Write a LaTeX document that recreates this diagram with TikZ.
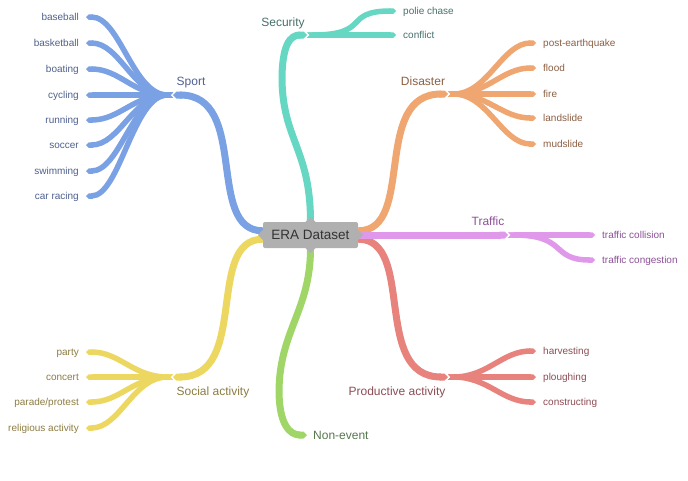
\documentclass[tikz,border=0pt]{standalone}
\usepackage{fontspec}
\setmainfont{Liberation Sans}
\usetikzlibrary{arrows.meta}

\definecolor{deporte}{RGB}{122,161,228}
\definecolor{seguridad}{RGB}{102,215,194}
\definecolor{desastre}{RGB}{240,166,112}
\definecolor{trafico}{RGB}{224,152,234}
\definecolor{productiva}{RGB}{232,130,125}
\definecolor{noevento}{RGB}{160,214,104}
\definecolor{social}{RGB}{236,216,96}
\definecolor{deportetxt}{RGB}{78,96,142}
\definecolor{seguridadtxt}{RGB}{70,112,108}
\definecolor{desastretxt}{RGB}{140,94,66}
\definecolor{traficotxt}{RGB}{140,80,150}
\definecolor{productivatxt}{RGB}{140,76,84}
\definecolor{noeventotxt}{RGB}{86,118,78}
\definecolor{socialtxt}{RGB}{140,124,66}
\definecolor{grisraiz}{RGB}{176,176,176}
\definecolor{textoraiz}{RGB}{51,51,51}

\tikzset{
  estilo mapa/.style={
      x=1pt, y=-1pt,
      raiz/.style={fill=grisraiz, text=textoraiz, rounded corners=2pt, minimum width=95pt,
          minimum height=26pt, inner sep=0pt, font={\fontsize{13.5}{16}\selectfont}},
      rama/.style={inner sep=0pt, text height=8.5pt, text depth=0pt, font={\fontsize{12}{14}\selectfont}},
      hoja/.style={inner xsep=7pt, inner ysep=0pt, text height=7pt, text depth=0pt,
          font={\fontsize{10}{12}\selectfont}},
      hoja izq/.style={hoja, anchor=east},
      hoja der/.style={hoja, anchor=west},
      enlace/.style={line width=7pt, -{Triangle Cap}},
      enlace hoja/.style={line width=5.5pt, {Triangle Cap[reversed]}-{Triangle Cap}},
    },
}

\begin{document}
\begin{tikzpicture}[estilo mapa]
    \useasboundingbox (0,0) rectangle (688,480);

    \node[raiz] (raiz) at (310.5,235) {ERA Dataset};

    % categorias
    \coordinate (sport) at (173,95);
    \coordinate (security) at (307,35);
    \coordinate (disaster) at (448,94);
    \coordinate (traffic) at (508,235);
    \coordinate (social) at (173,377);
    \coordinate (productive) at (448,377);

    \node[rama, text=deportetxt] (sport label) at (191,81) {Sport};
    \node[rama, text=seguridadtxt] (security label) at (283,22) {Security};
    \node[rama, text=desastretxt] (disaster label) at (423,81) {Disaster};
    \node[rama, text=traficotxt] (traffic label) at (488,221) {Traffic};
    \node[rama, text=socialtxt] (social label) at (213,391) {Social activity};
    \node[rama, text=productivatxt] (productive label) at (397,391) {Productive activity};
    \node[hoja der, rama, inner xsep=6pt, text=noeventotxt] (nonevent) at (307,435) {Non-event};

    % hojas
    \node[hoja izq, text=deportetxt] (baseball) at (86,17) {baseball};
    \node[hoja izq, text=deportetxt] (basketball) at (86,43) {basketball};
    \node[hoja izq, text=deportetxt] (boating) at (86,69) {boating};
    \node[hoja izq, text=deportetxt] (cycling) at (86,95) {cycling};
    \node[hoja izq, text=deportetxt] (running) at (86,120) {running};
    \node[hoja izq, text=deportetxt] (soccer) at (86,145) {soccer};
    \node[hoja izq, text=deportetxt] (swimming) at (86,171) {swimming};
    \node[hoja izq, text=deportetxt] (carracing) at (86,196) {car racing};

    \node[hoja der, text=seguridadtxt] (chase) at (396,11) {polie chase};
    \node[hoja der, text=seguridadtxt] (conflict) at (396,35) {conflict};

    \node[hoja der, text=desastretxt] (earthquake) at (536,43) {post-earthquake};
    \node[hoja der, text=desastretxt] (flood) at (536,68) {flood};
    \node[hoja der, text=desastretxt] (fire) at (536,94) {fire};
    \node[hoja der, text=desastretxt] (landslide) at (536,118) {landslide};
    \node[hoja der, text=desastretxt] (mudslide) at (536,144) {mudslide};

    \node[hoja der, text=traficotxt] (collision) at (595,235) {traffic collision};
    \node[hoja der, text=traficotxt] (congestion) at (595,260) {traffic congestion};

    \node[hoja izq, text=socialtxt] (party) at (86,352) {party};
    \node[hoja izq, text=socialtxt] (concert) at (86,377) {concert};
    \node[hoja izq, text=socialtxt] (parade) at (86,402) {parade/protest};
    \node[hoja izq, text=socialtxt] (religious) at (86,428) {religious activity};

    \node[hoja der, text=productivatxt] (harvesting) at (536,351) {harvesting};
    \node[hoja der, text=productivatxt] (ploughing) at (536,377) {ploughing};
    \node[hoja der, text=productivatxt] (constructing) at (536,402) {constructing};

    % enlaces desde la raiz
    \draw[enlace, deporte] (raiz.175) .. controls +(-58,0) and +(77,0) .. (sport);
    \draw[enlace, social] (raiz.185) .. controls +(-58,0) and +(77,0) .. (social);
    \draw[enlace, desastre] (raiz.5) .. controls +(58,0) and +(-77,0) .. (disaster);
    \draw[enlace, productiva] (raiz.355) .. controls +(58,0) and +(-77,0) .. (productive);
    \draw[enlace, trafico] (raiz.east) -- (traffic);
    \draw[enlace, seguridad] (raiz.north) .. controls +(0,-72) and +(1,60) .. (282,80)
        .. controls +(0,-35) and +(-17,0) .. (security);
    \draw[enlace, noevento] (raiz.south) .. controls +(0,62) and +(1,-60) .. (279,390)
        .. controls +(0,35) and +(-17,0) .. (nonevent.west);

    % enlaces a las hojas
    \draw[enlace hoja, deporte] (sport) .. controls +(-40,0) and +(34,0) .. (baseball.east);
    \draw[enlace hoja, deporte] (sport) .. controls +(-40,0) and +(34,0) .. (basketball.east);
    \draw[enlace hoja, deporte] (sport) .. controls +(-40,0) and +(34,0) .. (boating.east);
    \draw[enlace hoja, deporte] (sport) -- (cycling.east);
    \draw[enlace hoja, deporte] (sport) .. controls +(-40,0) and +(34,0) .. (running.east);
    \draw[enlace hoja, deporte] (sport) .. controls +(-40,0) and +(34,0) .. (soccer.east);
    \draw[enlace hoja, deporte] (sport) .. controls +(-40,0) and +(34,0) .. (swimming.east);
    \draw[enlace hoja, deporte] (sport) .. controls +(-40,0) and +(34,0) .. (carracing.east);

    \draw[enlace hoja, seguridad] (security) .. controls +(65,0) and +(-54,0) .. (chase.west);
    \draw[enlace hoja, seguridad] (security) -- (conflict.west);

    \draw[enlace hoja, desastre] (disaster) .. controls +(40,0) and +(-34,0) .. (earthquake.west);
    \draw[enlace hoja, desastre] (disaster) .. controls +(40,0) and +(-34,0) .. (flood.west);
    \draw[enlace hoja, desastre] (disaster) -- (fire.west);
    \draw[enlace hoja, desastre] (disaster) .. controls +(40,0) and +(-34,0) .. (landslide.west);
    \draw[enlace hoja, desastre] (disaster) .. controls +(40,0) and +(-34,0) .. (mudslide.west);

    \draw[enlace hoja, trafico] (traffic) -- (collision.west);
    \draw[enlace hoja, trafico] (traffic) .. controls +(60,0) and +(-45,0) .. (congestion.west);

    \draw[enlace hoja, social] (social) .. controls +(-40,0) and +(34,0) .. (party.east);
    \draw[enlace hoja, social] (social) -- (concert.east);
    \draw[enlace hoja, social] (social) .. controls +(-40,0) and +(34,0) .. (parade.east);
    \draw[enlace hoja, social] (social) .. controls +(-40,0) and +(34,0) .. (religious.east);

    \draw[enlace hoja, productiva] (productive) .. controls +(40,0) and +(-34,0) .. (harvesting.west);
    \draw[enlace hoja, productiva] (productive) -- (ploughing.west);
    \draw[enlace hoja, productiva] (productive) .. controls +(40,0) and +(-34,0) .. (constructing.west);

    % puntas de la raiz
    \fill[grisraiz] ([xshift=-5pt]raiz.north) -- ([yshift=5pt]raiz.north) -- ([xshift=5pt]raiz.north) -- cycle;
    \fill[grisraiz] ([xshift=-5pt]raiz.south) -- ([yshift=-5pt]raiz.south) -- ([xshift=5pt]raiz.south) -- cycle;
    \fill[grisraiz] ([yshift=-5pt]raiz.west) -- ([xshift=-5pt]raiz.west) -- ([yshift=5pt]raiz.west) -- cycle;
    \fill[grisraiz] ([yshift=-5pt]raiz.east) -- ([xshift=5pt]raiz.east) -- ([yshift=5pt]raiz.east) -- cycle;
  \end{tikzpicture}
\end{document}
